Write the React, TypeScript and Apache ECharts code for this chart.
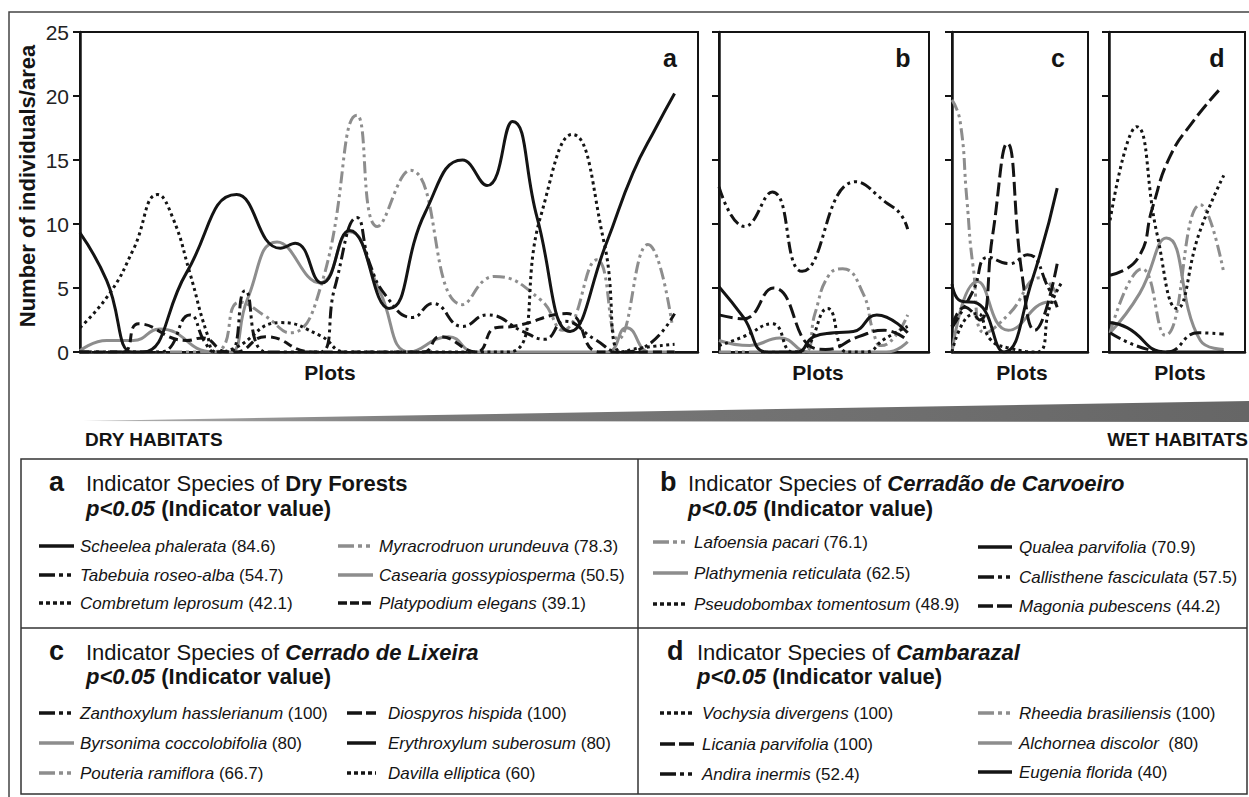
import React, { useEffect, useRef } from "react";
import * as echarts from "echarts";

const FONT = '"Liberation Sans", Arial, Helvetica, sans-serif';

// ---------- y axis ----------
const yTicks = [0, 5, 10, 15, 20, 25];

// ---------- Panel a: Dry Forests (x = plot position) ----------
const a_Scheelea = [[0, 9.3], [2.5, 5.6], [4.9, 0], [5.9, 0], [10.0, 6.2], [14.7, 12.3], [18.8, 8.1], [20.2, 8.5], [22.7, 5.4], [25.3, 9.5], [29.0, 3.4], [32.4, 10.9], [35.9, 15.0], [38.2, 13.0], [40.6, 18.0], [42.9, 10.5], [46.0, 1.6], [49.4, 8.5], [51.9, 14.0], [54.1, 17.6], [55.8, 20.2]];
const a_Tabebuia = [[0, 0], [7.5, 0], [10.3, 2.9], [11.7, 0.8], [12.7, 0], [14.1, 0], [15.5, 4.8], [17.5, 0], [22.5, 0], [23.9, 5.0], [26.0, 10.5], [27.2, 6.9], [28.8, 4.3], [31.2, 2.7], [33.1, 3.8], [35.9, 2.0], [38.2, 2.9], [41.6, 1.6], [43.6, 1.0], [45.5, 2.4], [48.3, 1.0], [50.7, 0], [52.5, 0.2], [55.8, 3.0]];
const a_Combretum = [[0, 1.9], [2.8, 4.6], [5.0, 8.0], [7.3, 12.3], [8.7, 10.5], [10.3, 6.2], [11.9, 1.5], [12.8, 0], [14.5, 0.3], [18.8, 2.3], [22.5, 1.3], [25.0, 0], [40.2, 0], [43.2, 10.5], [46.2, 17.0], [49.2, 8.5], [50.8, 0], [52.5, 0.3], [55.8, 0.6]];
const a_Myracrodruon = [[0, 0], [12.5, 0], [15.0, 3.9], [17.4, 2.8], [19.7, 1.5], [22.7, 5.4], [26.0, 18.5], [27.9, 9.8], [31.0, 14.2], [35.9, 3.7], [38.9, 5.9], [43.2, 4.1], [45.3, 1.7], [48.5, 7.2], [50.5, 1.0], [53.3, 8.4], [55.6, 2.0]];
const a_Casearia = [[0, 0.1], [2.5, 0.9], [5.0, 0.9], [7.5, 1.8], [12.5, 0], [14.1, 0], [15.7, 4.1], [18.5, 8.6], [22.5, 5.4], [25.3, 9.4], [28.1, 4.8], [31.0, 0], [34.6, 1.2], [37.1, 0], [49.4, 0], [51.3, 1.9], [53.5, 0], [55.8, 0]];
const a_Platypodium = [[0, 0], [4.0, 0], [5.5, 2.2], [10.0, 0.9], [11.5, 1.1], [13.8, 0], [14.6, 0], [17.4, 1.2], [21.9, 0], [32.2, 0], [33.8, 1.2], [37.2, 0], [39.0, 1.9], [40.6, 2.0], [45.7, 3.0], [48.8, 0], [55.8, 0]];

// ---------- Panel b: Cerradão de Carvoeiro ----------
const b_Lafoensia = [[0, 0], [8.0, 0], [9.0, 3.0], [10.3, 6.0], [11.6, 6.5], [13.5, 4.6], [14.5, 1.5], [15.2, 0.5], [16.5, 1.2], [17.7, 2.9]];
const b_Plathymenia = [[0, 0.9], [2.9, 0.5], [5.7, 1.1], [8.5, 0], [15.7, 0], [17.7, 0.8]];
const b_Pseudobombax = [[0, 0.5], [2.3, 1.2], [5.0, 2.2], [6.9, 0], [8.0, 0.2], [10.2, 3.4], [12.0, 0], [13.8, 0], [15.5, 1.0], [17.7, 2.0]];
const b_Qualea = [[0, 5.1], [2.3, 2.7], [4.5, 0], [7.3, 0], [8.9, 1.2], [10.8, 1.5], [12.6, 1.6], [14.8, 2.9], [17.7, 1.5]];
const b_Callisthene = [[0, 12.9], [2.4, 9.8], [5.0, 12.5], [7.8, 6.3], [12.8, 13.3], [15.8, 11.6], [17.0, 10.8], [17.7, 9.6]];
const b_Magonia = [[0, 2.9], [2.3, 2.6], [5.1, 5.0], [8.9, 0.3], [10.0, 0.2], [13.1, 1.2], [15.5, 1.7], [17.7, 0.9]];

// ---------- Panel c: Cerrado de Lixeira ----------
const c_Zanthoxylum = [[0, 1.9], [2.0, 4.8], [3.4, 7.4], [5.4, 6.9], [7.1, 7.6], [9.2, 4.8], [9.9, 3.5]];
const c_Diospyros = [[0, 2.0], [1.2, 3.5], [2.6, 2.5], [3.8, 9.0], [5.2, 16.3], [6.6, 6.0], [7.8, 1.7], [9.9, 6.9]];
const c_Byrsonima = [[0, 0], [2.4, 5.5], [5.3, 1.7], [9.2, 3.9], [9.9, 3.8]];
const c_Erythroxylum = [[0, 5.3], [0.8, 4.0], [2.4, 3.8], [4.9, 0], [7.5, 5.5], [9.9, 12.8]];
const c_Pouteria = [[0, 19.7], [0.75, 18.1], [1.4, 11.9], [2.0, 6.6], [3.1, 1.5], [5.4, 3.0], [8.3, 5.8], [9.9, 4.5]];
const c_Davilla = [[0, 0], [1.2, 2.5], [2.4, 3.0], [3.6, 1.0], [5.4, 0.3], [8.0, 0], [9.2, 3.5], [10.3, 5.4]];

// ---------- Panel d: Cambarazal ----------
const d_Vochysia = [[0.1, 10.3], [2.6, 17.6], [4.5, 9.3], [6.4, 3.4], [8.5, 9.3], [10.8, 13.8]];
const d_Licania = [[0.1, 6.0], [2.7, 7.3], [4.1, 11.3], [5.7, 15.2], [7.9, 18.0], [10.4, 20.5]];
const d_Rheedia = [[0.1, 1.5], [3.1, 6.5], [5.3, 1.3], [8.6, 11.5], [10.8, 6.2]];
const d_Alchornea = [[0.1, 1.5], [2.9, 4.6], [5.4, 8.9], [8.6, 0.9], [10.8, 0.2]];
const d_Andira = [[0.1, 1.5], [5.4, 0], [8.4, 1.5], [10.8, 1.4]];
const d_Eugenia = [[0.1, 2.3], [1.7, 1.9], [5.4, 0], [10.8, 0]];

// ---------- Legend table text ----------
const legendA = [
  ["Scheelea phalerata", "84.6", "solidBlack"],
  ["Tabebuia roseo-alba", "54.7", "ddBlack"],
  ["Combretum leprosum", "42.1", "dotBlack"],
  ["Myracrodruon urundeuva", "78.3", "ddGrey"],
  ["Casearia gossypiosperma", "50.5", "solidGrey"],
  ["Platypodium elegans", "39.1", "dash"],
];
const legendB = [
  ["Lafoensia pacari", "76.1", "ddGrey"],
  ["Plathymenia reticulata", "62.5", "solidGrey"],
  ["Pseudobombax tomentosum", "48.9", "dotBlack"],
  ["Qualea parvifolia", "70.9", "solidBlack"],
  ["Callisthene fasciculata", "57.5", "ddBlack"],
  ["Magonia pubescens", "44.2", "longDash"],
];
const legendC = [
  ["Zanthoxylum hasslerianum", "100", "ddBlack"],
  ["Byrsonima coccolobifolia", "80", "solidGrey"],
  ["Pouteria ramiflora", "66.7", "ddGrey"],
  ["Diospyros hispida", "100", "longDash"],
  ["Erythroxylum suberosum", "80", "solidBlack"],
  ["Davilla elliptica", "60", "dotBlack"],
];
const legendD = [
  ["Vochysia divergens", "100", "dotBlack"],
  ["Licania parvifolia", "100", "longDash"],
  ["Andira inermis", "52.4", "ddBlack"],
  ["Rheedia brasiliensis", "100", "ddGrey"],
  ["Alchornea discolor ", "80", "solidGrey"],
  ["Eugenia florida", "40", "solidBlack"],
];
const headerNames = ["Dry Forests", "Cerradão de Carvoeiro", "Cerrado de Lixeira", "Cambarazal"];
const panelLetters = ["a", "b", "c", "d"];

// ---------- styles ----------
const BLACK = "#141414";
const GREY = "#8d8d8d";
const STYLES: any = {
  solidBlack: { color: BLACK, type: "solid", legend: "solid" },
  solidGrey: { color: GREY, type: "solid", legend: "solid" },
  dotBlack: { color: BLACK, type: [3, 3.5], legend: [4, 3] },
  ddBlack: { color: BLACK, type: [12, 4, 3, 4, 3, 4], legend: [16, 4, 4, 4, 4, 3] },
  ddGrey: { color: GREY, type: [12, 4, 3, 4, 3, 4], legend: [16, 4, 4, 4, 4, 3] },
  longDash: { color: BLACK, type: [14, 5], legend: [15, 4] },
  dash: { color: BLACK, type: [9, 5], legend: [9, 3] },
};

const panelSeries = [
  [
    [a_Casearia, "solidGrey"], [a_Myracrodruon, "ddGrey"], [a_Platypodium, "dash"],
    [a_Combretum, "dotBlack"], [a_Tabebuia, "ddBlack"], [a_Scheelea, "solidBlack"],
  ],
  [
    [b_Plathymenia, "solidGrey"], [b_Lafoensia, "ddGrey"], [b_Pseudobombax, "dotBlack"],
    [b_Magonia, "longDash"], [b_Callisthene, "ddBlack"], [b_Qualea, "solidBlack"],
  ],
  [
    [c_Byrsonima, "solidGrey"], [c_Pouteria, "ddGrey"], [c_Davilla, "dotBlack"],
    [c_Diospyros, "longDash"], [c_Zanthoxylum, "ddBlack"], [c_Erythroxylum, "solidBlack"],
  ],
  [
    [d_Alchornea, "solidGrey"], [d_Rheedia, "ddGrey"], [d_Vochysia, "dotBlack"],
    [d_Licania, "longDash"], [d_Andira, "ddBlack"], [d_Eugenia, "solidBlack"],
  ],
];
const panelNames = [
  ["Casearia gossypiosperma", "Myracrodruon urundeuva", "Platypodium elegans", "Combretum leprosum", "Tabebuia roseo-alba", "Scheelea phalerata"],
  ["Plathymenia reticulata", "Lafoensia pacari", "Pseudobombax tomentosum", "Magonia pubescens", "Callisthene fasciculata", "Qualea parvifolia"],
  ["Byrsonima coccolobifolia", "Pouteria ramiflora", "Davilla elliptica", "Diospyros hispida", "Zanthoxylum hasslerianum", "Erythroxylum suberosum"],
  ["Alchornea discolor", "Rheedia brasiliensis", "Vochysia divergens", "Licania parvifolia", "Andira inermis", "Eugenia florida"],
];

// ---------- layout (pixels) ----------
const PANELS = [
  { left: 80, width: 618, xMax: 58.0, letterX: 670, plotsX: 330 },
  { left: 719, width: 210, xMax: 19.7, letterX: 903, plotsX: 818 },
  { left: 952, width: 136, xMax: 12.8, letterX: 1058, plotsX: 1022 },
  { left: 1109, width: 136, xMax: 12.8, letterX: 1217, plotsX: 1180 },
];
const GRID_TOP = 32;
const GRID_H = 320;

const BLOCKS = [
  { letterX: 49, textX: 86, y1: 483, y2: 508, cols: [{ sx: 39, ex: 74, tx: 80, ys: [546, 575, 603] }, { sx: 338, ex: 373, tx: 379, ys: [546, 575, 603] }] },
  { letterX: 660, textX: 688, y1: 483, y2: 508, cols: [{ sx: 653, ex: 688, tx: 694, ys: [542, 573, 604] }, { sx: 978, ex: 1012, tx: 1019, ys: [547, 577, 606] }] },
  { letterX: 49, textX: 86, y1: 652, y2: 676, cols: [{ sx: 39, ex: 74, tx: 80, ys: [713, 743, 773] }, { sx: 347, ex: 376, tx: 388, ys: [713, 743, 773] }] },
  { letterX: 667, textX: 697, y1: 652, y2: 676, cols: [{ sx: 660, ex: 695, tx: 702, ys: [713, 744, 774] }, { sx: 978, ex: 1012, tx: 1019, ys: [713, 743, 772] }] },
];
const legends = [legendA, legendB, legendC, legendD];

function buildOption() {
  const grid: any[] = [];
  const xAxis: any[] = [];
  const yAxis: any[] = [];
  const series: any[] = [];

  PANELS.forEach((p, i) => {
    grid.push({ left: p.left, top: GRID_TOP, width: p.width, height: GRID_H, show: true, borderColor: BLACK, borderWidth: 2, backgroundColor: "transparent" });
    xAxis.push({
      gridIndex: i, type: "value", min: 0, max: p.xMax,
      axisLine: { show: true, onZero: false, lineStyle: { color: BLACK, width: 2.5 } },
      axisTick: { show: false }, axisLabel: { show: false }, splitLine: { show: false },
    });
    yAxis.push({
      gridIndex: i, type: "value", min: yTicks[0], max: yTicks[yTicks.length - 1], interval: 5,
      axisLine: { show: true, lineStyle: { color: BLACK, width: 2.5 } },
      axisTick: { show: true, inside: false, length: 7, lineStyle: { color: BLACK, width: 2 } },
      axisLabel: { show: i === 0, fontSize: 21, color: "#222", fontFamily: FONT, margin: 11 },
      splitLine: { show: false },
    });
    panelSeries[i].forEach(([data, st]: any, k: number) => {
      const s = STYLES[st];
      series.push({
        name: panelNames[i][k], type: "line", xAxisIndex: i, yAxisIndex: i,
        data, smooth: 0.5, showSymbol: false, symbol: "none", clip: true,
        lineStyle: { color: s.color, width: 3, type: s.type, cap: "butt" },
        z: 2 + k,
      });
    });
  });

  const graphic: any[] = [];
  // outer frame
  graphic.push({ type: "polyline", shape: { points: [[9, 797], [9, 12], [1249, 12]] }, style: { stroke: "#444", lineWidth: 1.5, fill: "none" } });
  // y-axis title
  graphic.push({ type: "text", x: 27, y: 186, rotation: Math.PI / 2, style: { text: "Number of individuals/area", font: `bold 22px ${FONT}`, fill: BLACK, align: "center", verticalAlign: "middle", textAlign: "center", textVerticalAlign: "middle" } });
  // panel letters and Plots labels
  PANELS.forEach((p, i) => {
    graphic.push({ type: "text", x: p.letterX, y: 58, style: { text: panelLetters[i], font: `bold 25px ${FONT}`, fill: BLACK, align: "center", verticalAlign: "middle", textAlign: "center", textVerticalAlign: "middle" } });
    graphic.push({ type: "text", x: p.plotsX, y: 372, style: { text: "Plots", font: `bold 21px ${FONT}`, fill: BLACK, align: "center", verticalAlign: "middle", textAlign: "center", textVerticalAlign: "middle" } });
  });
  // gradient wedge
  graphic.push({
    type: "polygon", shape: { points: [[83, 421], [1249, 401], [1249, 422]] },
    style: { fill: new echarts.graphic.LinearGradient(0, 0, 1, 0, [{ offset: 0, color: "#b4b4b4" }, { offset: 0.3, color: "#7a7a7a" }, { offset: 1, color: "#666" }]), stroke: "none" },
  });
  graphic.push({ type: "text", x: 85, y: 439, style: { text: "DRY HABITATS", font: `bold 19px ${FONT}`, fill: BLACK, align: "left", verticalAlign: "middle", textAlign: "left", textVerticalAlign: "middle" } });
  graphic.push({ type: "text", x: 1248, y: 439, style: { text: "WET HABITATS", font: `bold 19px ${FONT}`, fill: BLACK, align: "right", verticalAlign: "middle", textAlign: "right", textVerticalAlign: "middle" } });
  // table
  graphic.push({ type: "rect", shape: { x: 21, y: 459, width: 1226, height: 335 }, style: { fill: "none", stroke: "#333", lineWidth: 1.5 } });
  graphic.push({ type: "line", shape: { x1: 638, y1: 459, x2: 638, y2: 794 }, style: { stroke: "#333", lineWidth: 1.5 } });
  graphic.push({ type: "line", shape: { x1: 21, y1: 628, x2: 1247, y2: 628 }, style: { stroke: "#333", lineWidth: 1.5 } });

  const base = { fontFamily: FONT, fill: BLACK };
  BLOCKS.forEach((b, i) => {
    graphic.push({ type: "text", x: b.letterX, y: b.y1 - 1, style: { text: panelLetters[i], font: `bold 27px ${FONT}`, fill: BLACK, align: "left", verticalAlign: "middle", textAlign: "left", textVerticalAlign: "middle" } });
    graphic.push({
      type: "text", x: b.textX, y: b.y1,
      style: {
        text: `{n|Indicator Species of }{h|${headerNames[i]}}`,
        rich: {
          n: { ...base, fontSize: 22 },
          h: { ...base, fontSize: 22, fontWeight: "bold", fontStyle: i === 0 ? "normal" : "italic" },
        },
        align: "left", verticalAlign: "middle", textAlign: "left", textVerticalAlign: "middle",
      },
    });
    graphic.push({
      type: "text", x: b.textX, y: b.y2,
      style: {
        text: `{p|p<0.05}{q| (Indicator value)}`,
        rich: {
          p: { ...base, fontSize: 22, fontWeight: "bold", fontStyle: "italic" },
          q: { ...base, fontSize: 22, fontWeight: "bold" },
        },
        align: "left", verticalAlign: "middle", textAlign: "left", textVerticalAlign: "middle",
      },
    });
    legends[i].forEach(([name, iv, st]: any, k: number) => {
      const col = b.cols[Math.floor(k / 3)];
      const y = col.ys[k % 3];
      const s = STYLES[st];
      graphic.push({
        type: "line", shape: { x1: col.sx, y1: y, x2: col.ex, y2: y },
        style: { stroke: s.color, lineWidth: 3.5, lineDash: s.legend === "solid" ? null : s.legend, lineCap: "butt" },
      });
      graphic.push({
        type: "text", x: col.tx, y,
        style: {
          text: `{i|${name}}{v| (${iv})}`,
          rich: { i: { ...base, fontSize: 17, fontStyle: "italic" }, v: { ...base, fontSize: 17 } },
          align: "left", verticalAlign: "middle", textAlign: "left", textVerticalAlign: "middle",
        },
      });
    });
  });

  return {
    animation: false,
    backgroundColor: "#ffffff",
    grid, xAxis, yAxis, series, graphic,
  };
}

export default function App() {
  const ref = useRef<HTMLDivElement>(null);
  useEffect(() => {
    if (!ref.current) return;
    const chart = echarts.init(ref.current, null, { renderer: "svg" });
    chart.setOption(buildOption() as any);
    return () => chart.dispose();
  }, []);
  return <div ref={ref} style={{ position: "absolute", left: 0, top: 0, width: 1249, height: 797, background: "#fff" }} />;
}
